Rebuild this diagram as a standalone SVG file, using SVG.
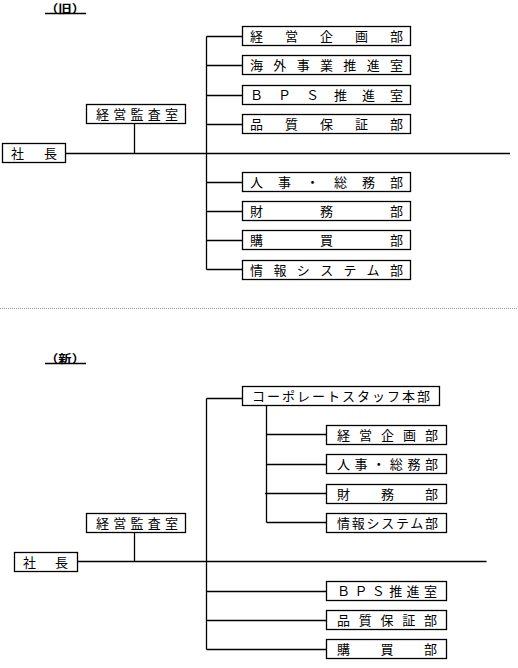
<svg xmlns="http://www.w3.org/2000/svg" width="518" height="668" viewBox="0 0 518 668">
<style>
.box{fill:#fff;stroke:#000;stroke-width:1.3}
.ln{stroke:#000;stroke-width:1.3;fill:none}
.t{font-family:"Noto Sans CJK JP","Noto Sans CJK SC",sans-serif;font-size:13px;fill:#000}
.ttl{font-family:"Noto Sans CJK JP","Noto Sans CJK SC",sans-serif;font-size:11.5px;font-weight:bold;fill:#000}
</style>
<rect width="518" height="668" fill="#fff"/>

<!-- Old -->
<g id="title-old"><text class="ttl" x="45" y="12.5" textLength="40" lengthAdjust="spacingAndGlyphs">（旧）</text><line class="ln" x1="45" y1="13.5" x2="86" y2="13.5"/></g>

<g id="connectors-old">
<line class="ln" x1="65.5" y1="153.5" x2="510" y2="153.5"/>
<line class="ln" x1="134.5" y1="123.5" x2="134.5" y2="153.5"/>
<line class="ln" x1="206.5" y1="36.5" x2="206.5" y2="269.5"/>
<line class="ln" x1="206.5" y1="36.5" x2="242.5" y2="36.5"/>
<line class="ln" x1="206.5" y1="65.5" x2="242.5" y2="65.5"/>
<line class="ln" x1="206.5" y1="95.5" x2="242.5" y2="95.5"/>
<line class="ln" x1="206.5" y1="124.5" x2="242.5" y2="124.5"/>
<line class="ln" x1="206.5" y1="182.5" x2="242.5" y2="182.5"/>
<line class="ln" x1="206.5" y1="211.5" x2="242.5" y2="211.5"/>
<line class="ln" x1="206.5" y1="240.5" x2="242.5" y2="240.5"/>
<line class="ln" x1="206.5" y1="269.5" x2="242.5" y2="269.5"/>
</g>

<g id="old-president"><rect class="box" x="2.5" y="143.5" width="63" height="19"/><text class="t" x="11" y="158" textLength="46" lengthAdjust="spacing">社長</text></g>
<g id="old-audit"><rect class="box" x="86.5" y="104.5" width="99" height="19"/><text class="t" x="96" y="119" textLength="82" lengthAdjust="spacing">経営監査室</text></g>
<g id="old-planning"><rect class="box" x="242.5" y="26.5" width="168" height="19"/><text class="t" x="250" y="41" textLength="153" lengthAdjust="spacing">経営企画部</text></g>
<g id="old-overseas"><rect class="box" x="242.5" y="55.5" width="168" height="19"/><text class="t" x="250" y="70" textLength="153" lengthAdjust="spacing">海外事業推進室</text></g>
<g id="old-bps"><rect class="box" x="242.5" y="85.5" width="168" height="19"/><text class="t" x="250" y="100" textLength="153" lengthAdjust="spacing">ＢＰＳ推進室</text></g>
<g id="old-qa"><rect class="box" x="242.5" y="114.5" width="168" height="19"/><text class="t" x="250" y="129" textLength="153" lengthAdjust="spacing">品質保証部</text></g>
<g id="old-hr"><rect class="box" x="242.5" y="172.5" width="168" height="19"/><text class="t" x="250" y="187" textLength="153" lengthAdjust="spacing">人事・総務部</text></g>
<g id="old-finance"><rect class="box" x="242.5" y="201.5" width="168" height="19"/><text class="t" x="250" y="216" textLength="153" lengthAdjust="spacing">財務部</text></g>
<g id="old-purchasing"><rect class="box" x="242.5" y="230.5" width="168" height="19"/><text class="t" x="250" y="245" textLength="153" lengthAdjust="spacing">購買部</text></g>
<g id="old-it"><rect class="box" x="242.5" y="260.5" width="168" height="19"/><text class="t" x="250" y="275" textLength="153" lengthAdjust="spacing">情報システム部</text></g>

<line x1="0" y1="308.5" x2="518" y2="308.5" stroke="#999" stroke-width="1" stroke-dasharray="1,1"/>

<!-- New -->
<g id="title-new"><text class="ttl" x="45" y="362.5" textLength="40" lengthAdjust="spacingAndGlyphs">（新）</text><line class="ln" x1="45" y1="363.5" x2="86" y2="363.5"/></g>

<g id="connectors-new">
<line class="ln" x1="77.5" y1="561.5" x2="486.5" y2="561.5"/>
<line class="ln" x1="134.5" y1="532.5" x2="134.5" y2="561.5"/>
<line class="ln" x1="206.5" y1="398.5" x2="206.5" y2="649.5"/>
<line class="ln" x1="206.5" y1="398.5" x2="242.5" y2="398.5"/>
<line class="ln" x1="266.5" y1="405.5" x2="266.5" y2="522.5"/>
<line class="ln" x1="266.5" y1="434.5" x2="326.5" y2="434.5"/>
<line class="ln" x1="266.5" y1="464.5" x2="326.5" y2="464.5"/>
<line class="ln" x1="265" y1="493.5" x2="326.5" y2="493.5"/>
<line class="ln" x1="266.5" y1="522.5" x2="326.5" y2="522.5"/>
<line class="ln" x1="206.5" y1="591.5" x2="326.5" y2="591.5"/>
<line class="ln" x1="206.5" y1="620.5" x2="326.5" y2="620.5"/>
<line class="ln" x1="206.5" y1="649.5" x2="326.5" y2="649.5"/>
</g>

<g id="new-president"><rect class="box" x="14.5" y="552.5" width="63" height="19"/><text class="t" x="23" y="567" textLength="45" lengthAdjust="spacing">社長</text></g>
<g id="new-audit"><rect class="box" x="86.5" y="513.5" width="99" height="19"/><text class="t" x="96" y="528" textLength="82" lengthAdjust="spacing">経営監査室</text></g>
<g id="new-corporate"><rect class="box" x="242.5" y="386.5" width="197" height="19"/><text class="t" x="252" y="401" textLength="178" lengthAdjust="spacing">コーポレートスタッフ本部</text></g>
<g id="new-planning"><rect class="box" x="326.5" y="425.5" width="120" height="19"/><text class="t" x="337" y="440" textLength="101" lengthAdjust="spacing">経営企画部</text></g>
<g id="new-hr"><rect class="box" x="326.5" y="454.5" width="120" height="19"/><text class="t" x="337" y="469" textLength="101" lengthAdjust="spacing">人事・総務部</text></g>
<g id="new-finance"><rect class="box" x="326.5" y="484.5" width="120" height="19"/><text class="t" x="337" y="499" textLength="101" lengthAdjust="spacing">財務部</text></g>
<g id="new-it"><rect class="box" x="326.5" y="513.5" width="120" height="19"/><text class="t" x="337" y="528" textLength="101" lengthAdjust="spacing">情報システム部</text></g>
<g id="new-bps"><rect class="box" x="326.5" y="581.5" width="120" height="19"/><text class="t" x="337" y="596" textLength="100" lengthAdjust="spacing">ＢＰＳ推進室</text></g>
<g id="new-qa"><rect class="box" x="326.5" y="610.5" width="120" height="19"/><text class="t" x="337" y="625" textLength="100" lengthAdjust="spacing">品質保証部</text></g>
<g id="new-purchasing"><rect class="box" x="326.5" y="639.5" width="120" height="19"/><text class="t" x="337" y="654" textLength="100" lengthAdjust="spacing">購買部</text></g>
</svg>
